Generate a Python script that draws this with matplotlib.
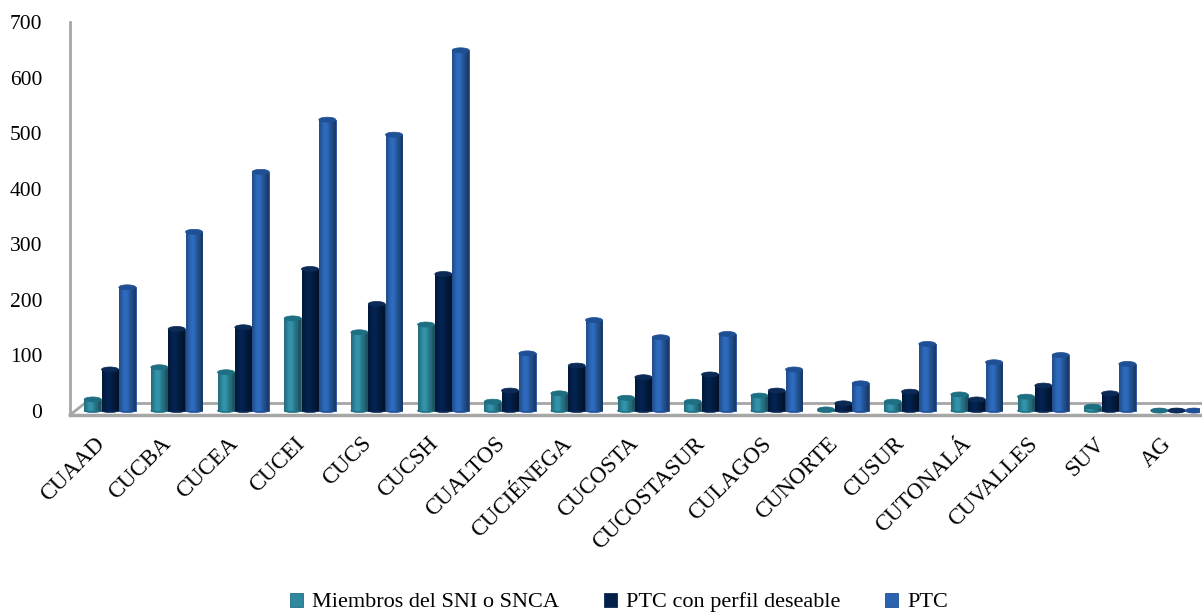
import matplotlib
matplotlib.use("Agg")
import matplotlib.pyplot as plt
import matplotlib.transforms as mtransforms
import numpy as np
from matplotlib.patches import Ellipse
from matplotlib.colors import to_rgb

categories = ["CUAAD", "CUCBA", "CUCEA", "CUCEI", "CUCS", "CUCSH", "CUALTOS",
              "CUCIÉNEGA", "CUCOSTA", "CUCOSTASUR", "CULAGOS", "CUNORTE",
              "CUSUR", "CUTONALÁ", "CUVALLES", "SUV", "AG"]
sni = [20, 78, 69, 166, 141, 155, 16, 31, 23, 16, 27, 2, 16, 29, 25, 7, 0]
perfil = [74, 147, 150, 255, 192, 246, 36, 81, 60, 65, 36, 13, 34, 20, 45, 31, 0]
ptc = [222, 322, 430, 524, 497, 649, 103, 163, 132, 138, 74, 49, 120, 87, 100, 84, 0]
series_names = ["Miembros del SNI o SNCA", "PTC con perfil deseable", "PTC"]
yticks = [0, 100, 200, 300, 400, 500, 600, 700]

colors = ["#2F889E", "#03204A", "#2A63B0"]
cap_colors = ["#1F6F82", "#0B2A55", "#1F4F95"]

plt.rcParams['font.family'] = ['Liberation Serif', 'DejaVu Serif']

fig = plt.figure(figsize=(12.02, 6.14), dpi=100)
ax = fig.add_axes([70/1202, 1-415/614, 1130/1202, (415-22)/614])

x = np.arange(len(categories))
w = 0.26
offsets = [-w, 0, w]
ymin = -8


def grad_img(c):
    r, g, b = to_rgb(c)
    t = np.linspace(0, 1, 64)
    # brightness profile of a lit cylinder: dark edges, light at ~35%
    prof = 0.72 + 0.38 * np.exp(-((t - 0.38) / 0.28) ** 2)
    prof[t > 0.85] *= 0.85
    img = np.stack([np.clip(r * prof, 0, 1), np.clip(g * prof, 0, 1),
                    np.clip(b * prof, 0, 1)], axis=-1)
    return img[np.newaxis, :, :]


for vals, off, c, cc, name in zip([sni, perfil, ptc], offsets, colors, cap_colors, series_names):
    bars = ax.bar(x + off, vals, width=w * 0.98, color=c, edgecolor=cc,
                  linewidth=0.6, label=name, zorder=3)
    img = grad_img(c)
    for bar, xi, v in zip(bars, x + off, vals):
        if v > 0:
            im = ax.imshow(img, extent=[bar.get_x(), bar.get_x() + bar.get_width(), 0, v],
                           aspect='auto', zorder=3.1, interpolation='bilinear')
            im.set_clip_path(bar)
        ax.add_patch(Ellipse((xi, v), w * 0.98, 9, facecolor=cc, edgecolor=cc,
                             linewidth=0.5, zorder=4))
        ax.add_patch(Ellipse((xi, 0), w * 0.98, 7, facecolor=c, edgecolor=cc,
                             linewidth=0.5, zorder=2.9))

ax.set_xlim(-0.6, len(categories) - 1 + 0.35)
ax.set_ylim(ymin, 700)
ax.set_aspect('auto')
ax.set_yticks(yticks)
ax.set_yticklabels([str(t) for t in yticks], fontsize=15.5)
ax.tick_params(axis='y', length=0, pad=20)
ax.tick_params(axis='x', length=0, pad=8)
ax.set_xticks(x)
ax.set_xticklabels(categories, rotation=45, ha='right', rotation_mode='anchor',
                   fontsize=16.5)
offset = mtransforms.ScaledTranslation(-16/100, -7/100, fig.dpi_scale_trans)
for lbl in ax.get_xticklabels():
    lbl.set_transform(lbl.get_transform() + offset)

for s in ['top', 'right']:
    ax.spines[s].set_visible(False)
ax.spines['left'].set_color('#A6A6A6')
ax.spines['left'].set_linewidth(2)
ax.spines['bottom'].set_color('#A6A6A6')
ax.spines['bottom'].set_linewidth(2.5)

# back edge of floor
ax.plot([-0.38, len(categories) - 1 + 0.38], [13, 13], color='#A6A6A6',
        linewidth=2, zorder=1, clip_on=False)
ax.plot([-0.6, -0.38], [ymin, 13], color='#A6A6A6', linewidth=2, zorder=1,
        clip_on=False)

leg = fig.legend(loc='lower center', bbox_to_anchor=(0.515, -0.03), ncol=3,
                 frameon=False, fontsize=16, handlelength=0.6, handleheight=0.6,
                 handletextpad=0.4, columnspacing=2.0)

fig.savefig("out.png", dpi=100)
